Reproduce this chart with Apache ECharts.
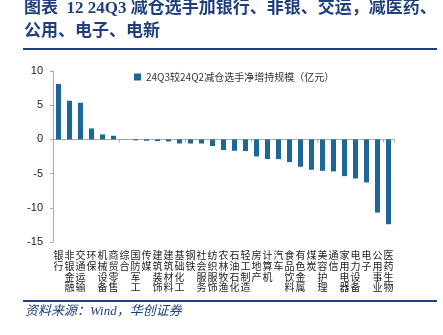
<!DOCTYPE html>
<html><head><meta charset="utf-8">
<script src="https://cdn.jsdelivr.net/npm/echarts@6/dist/echarts.min.js"></script>
<style>html,body{margin:0;padding:0;background:#fff}#c{width:443px;height:335px}</style>
</head><body><div id="c"></div>
<script>
var categories = ['银行','非银金融','交通运输','环保','机械设备','商贸零售','综合','国防军工','传媒','建筑装饰','建筑材料','基础化工','钢铁','社会服务','纺织服饰','农林牧渔','石油石化','轻工制造','房地产','计算机','汽车','食品饮料','有色金属','煤炭','美容护理','通信','家用电器','电力设备','电子','公用事业','医药生物'];
var values = [8.1,5.65,5.36,1.6,0.73,0.53,0.03,-0.15,-0.2,-0.25,-0.3,-0.6,-0.6,-0.6,-0.97,-1.56,-1.66,-1.7,-2.49,-2.88,-2.88,-3.32,-4.0,-4.44,-4.59,-4.68,-5.37,-5.71,-6.3,-10.7,-12.4];
var seriesName = '24Q3较24Q2减仓选手净增持规模（亿元）';
var yTicks = [-15,-10,-5,0,5,10];
var titleLines = ['图表  12 24Q3 减仓选手加银行、非银、交运，减医药、','公用、电子、电新'];
var sourceText = '资料来源：Wind，华创证券';

var navy = '#1f3f7d';
var chart = echarts.init(document.getElementById('c'));
chart.setOption({
  animation:false,
  grid:{left:53,right:49,top:71,bottom:93},
  legend:{show:true,left:129,top:67,itemWidth:7,itemHeight:7,itemGap:4,
    textStyle:{fontSize:10,color:'#333',fontFamily:'Noto Sans CJK SC'},
    data:[{name:seriesName,icon:'rect'}]},
  xAxis:[{
    type:'category',data:categories,position:'bottom',
    axisLine:{show:false,onZero:false},axisTick:{show:false},
    axisLabel:{interval:0,margin:8,fontSize:10,lineHeight:10.7,color:'#222',fontFamily:'Noto Sans CJK SC',
      formatter:function(v){return v.split('').join('\n');}}
  },{
    type:'category',data:categories,position:'bottom',
    axisLine:{show:true,onZero:true,lineStyle:{color:'#aaa',width:1}},
    axisTick:{show:true,length:3,lineStyle:{color:'#aaa'}},
    axisLabel:{show:false}
  }],
  yAxis:{type:'value',min:yTicks[0],max:yTicks[yTicks.length-1],interval:5,
    axisLine:{show:true,lineStyle:{color:'#aaa'}},
    axisTick:{show:true,length:3,lineStyle:{color:'#aaa'}},
    splitLine:{show:false},
    axisLabel:{margin:10,fontSize:11,color:'#222',fontFamily:'Liberation Sans'}},
  series:[{name:seriesName,type:'bar',data:values,barWidth:5,itemStyle:{color:'#1b6896'}}],
  graphic:[
    {type:'text',left:24,top:0,style:{text:titleLines[0],fontSize:17,fontWeight:'bold',fill:navy,fontFamily:'Liberation Serif, Noto Sans CJK SC'}},
    {type:'text',left:24,top:23,style:{text:titleLines[1],fontSize:17,fontWeight:'bold',fill:navy,fontFamily:'Liberation Serif, Noto Sans CJK SC'}},
    {type:'line',shape:{x1:23,y1:49,x2:437,y2:49},style:{stroke:navy,lineWidth:2}},
    {type:'line',shape:{x1:23,y1:301,x2:437,y2:301},style:{stroke:navy,lineWidth:2}},
    {type:'text',left:25,top:305,style:{text:sourceText,fontSize:13,fontStyle:'italic',fill:navy,fontFamily:'Liberation Serif, Noto Sans CJK SC'}}
  ]
});
</script></body></html>
